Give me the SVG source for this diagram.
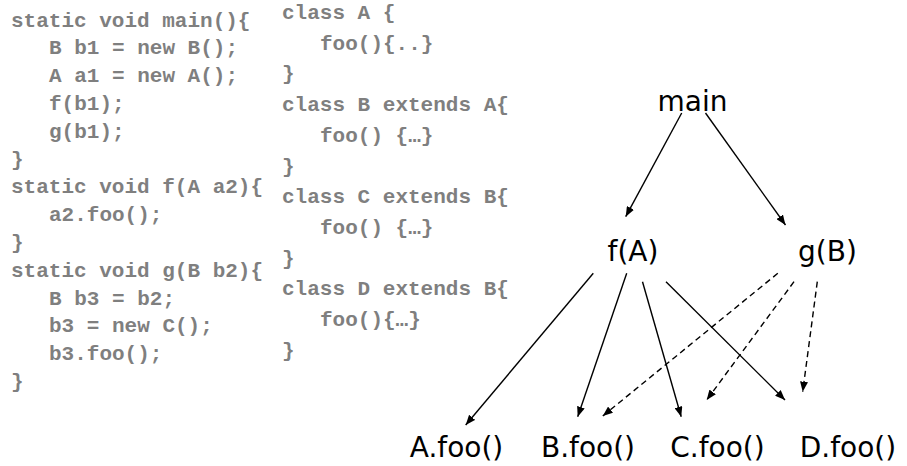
<svg xmlns="http://www.w3.org/2000/svg" width="907" height="466" viewBox="0 0 907 466">
  <style>
    .code { font-family: "Liberation Mono", "Courier New", monospace; font-weight: bold; font-size: 21px; fill: #7f7f7f; }
    .node { font-family: "DejaVu Sans", "Noto Sans", sans-serif; font-size: 28px; fill: #000; text-anchor: middle; }
    .edge { stroke: #000; stroke-width: 1.4; fill: none; marker-end: url(#head); }
    .dashed { stroke-dasharray: 6 4; }
  </style>
  <defs>
    <marker id="head" viewBox="0 0 10 8" refX="10" refY="4" markerWidth="10" markerHeight="8" markerUnits="userSpaceOnUse" orient="auto">
      <path d="M0,0 L10,4 L0,8 z" fill="#000"/>
    </marker>
  </defs>

  <rect width="907" height="466" fill="#fff"/>

  <!-- Java source: static methods -->
  <g id="code-methods" class="code">
    <text x="11" y="26.5">static void main(){</text>
    <text x="49" y="54.3">B b1 = new B();</text>
    <text x="49" y="82.1">A a1 = new A();</text>
    <text x="49" y="109.9">f(b1);</text>
    <text x="49" y="137.7">g(b1);</text>
    <text x="11" y="165.5">}</text>
    <text x="11" y="193.3">static void f(A a2){</text>
    <text x="49" y="221.1">a2.foo();</text>
    <text x="11" y="248.9">}</text>
    <text x="11" y="276.7">static void g(B b2){</text>
    <text x="49" y="304.5">B b3 = b2;</text>
    <text x="49" y="332.3">b3 = new C();</text>
    <text x="49" y="360.1">b3.foo();</text>
    <text x="11" y="387.9">}</text>
  </g>

  <!-- Java source: class hierarchy -->
  <g id="code-classes" class="code">
    <text x="282" y="19">class A {</text>
    <text x="320" y="49.7">foo(){..}</text>
    <text x="282" y="80.4">}</text>
    <text x="282" y="111.1">class B extends A{</text>
    <text x="320" y="141.8">foo() {…}</text>
    <text x="282" y="172.5">}</text>
    <text x="282" y="203.2">class C extends B{</text>
    <text x="320" y="233.9">foo() {…}</text>
    <text x="282" y="264.6">}</text>
    <text x="282" y="295.3">class D extends B{</text>
    <text x="320" y="326">foo(){…}</text>
    <text x="282" y="356.7">}</text>
  </g>

  <!-- call graph edges -->
  <g id="edges">
    <line class="edge" x1="681.7" y1="113" x2="625.7" y2="216.7"/>
    <line class="edge" x1="705.5" y1="113" x2="785.5" y2="225"/>
    <line class="edge" x1="593.3" y1="273.3" x2="465.7" y2="425"/>
    <line class="edge" x1="626.7" y1="273.3" x2="577.7" y2="416.7"/>
    <line class="edge" x1="642.5" y1="281.7" x2="681.2" y2="416.7"/>
    <line class="edge" x1="666" y1="281.7" x2="785" y2="400"/>
    <line class="edge dashed" x1="777.8" y1="273.3" x2="602.8" y2="416"/>
    <line class="edge dashed" x1="794" y1="281.7" x2="706.7" y2="400"/>
    <line class="edge dashed" x1="817.3" y1="281.7" x2="802.7" y2="391.7"/>
  </g>

  <!-- call graph nodes -->
  <g id="node-main"><text class="node" x="692.5" y="110.5">main</text></g>
  <g id="node-f"><text class="node" x="633" y="261">f(A)</text></g>
  <g id="node-g"><text class="node" x="827.5" y="261">g(B)</text></g>
  <g id="node-afoo"><text class="node" x="456.5" y="457">A.foo()</text></g>
  <g id="node-bfoo"><text class="node" x="588" y="457">B.foo()</text></g>
  <g id="node-cfoo"><text class="node" x="717.5" y="457">C.foo()</text></g>
  <g id="node-dfoo"><text class="node" x="848" y="457">D.foo()</text></g>
</svg>
